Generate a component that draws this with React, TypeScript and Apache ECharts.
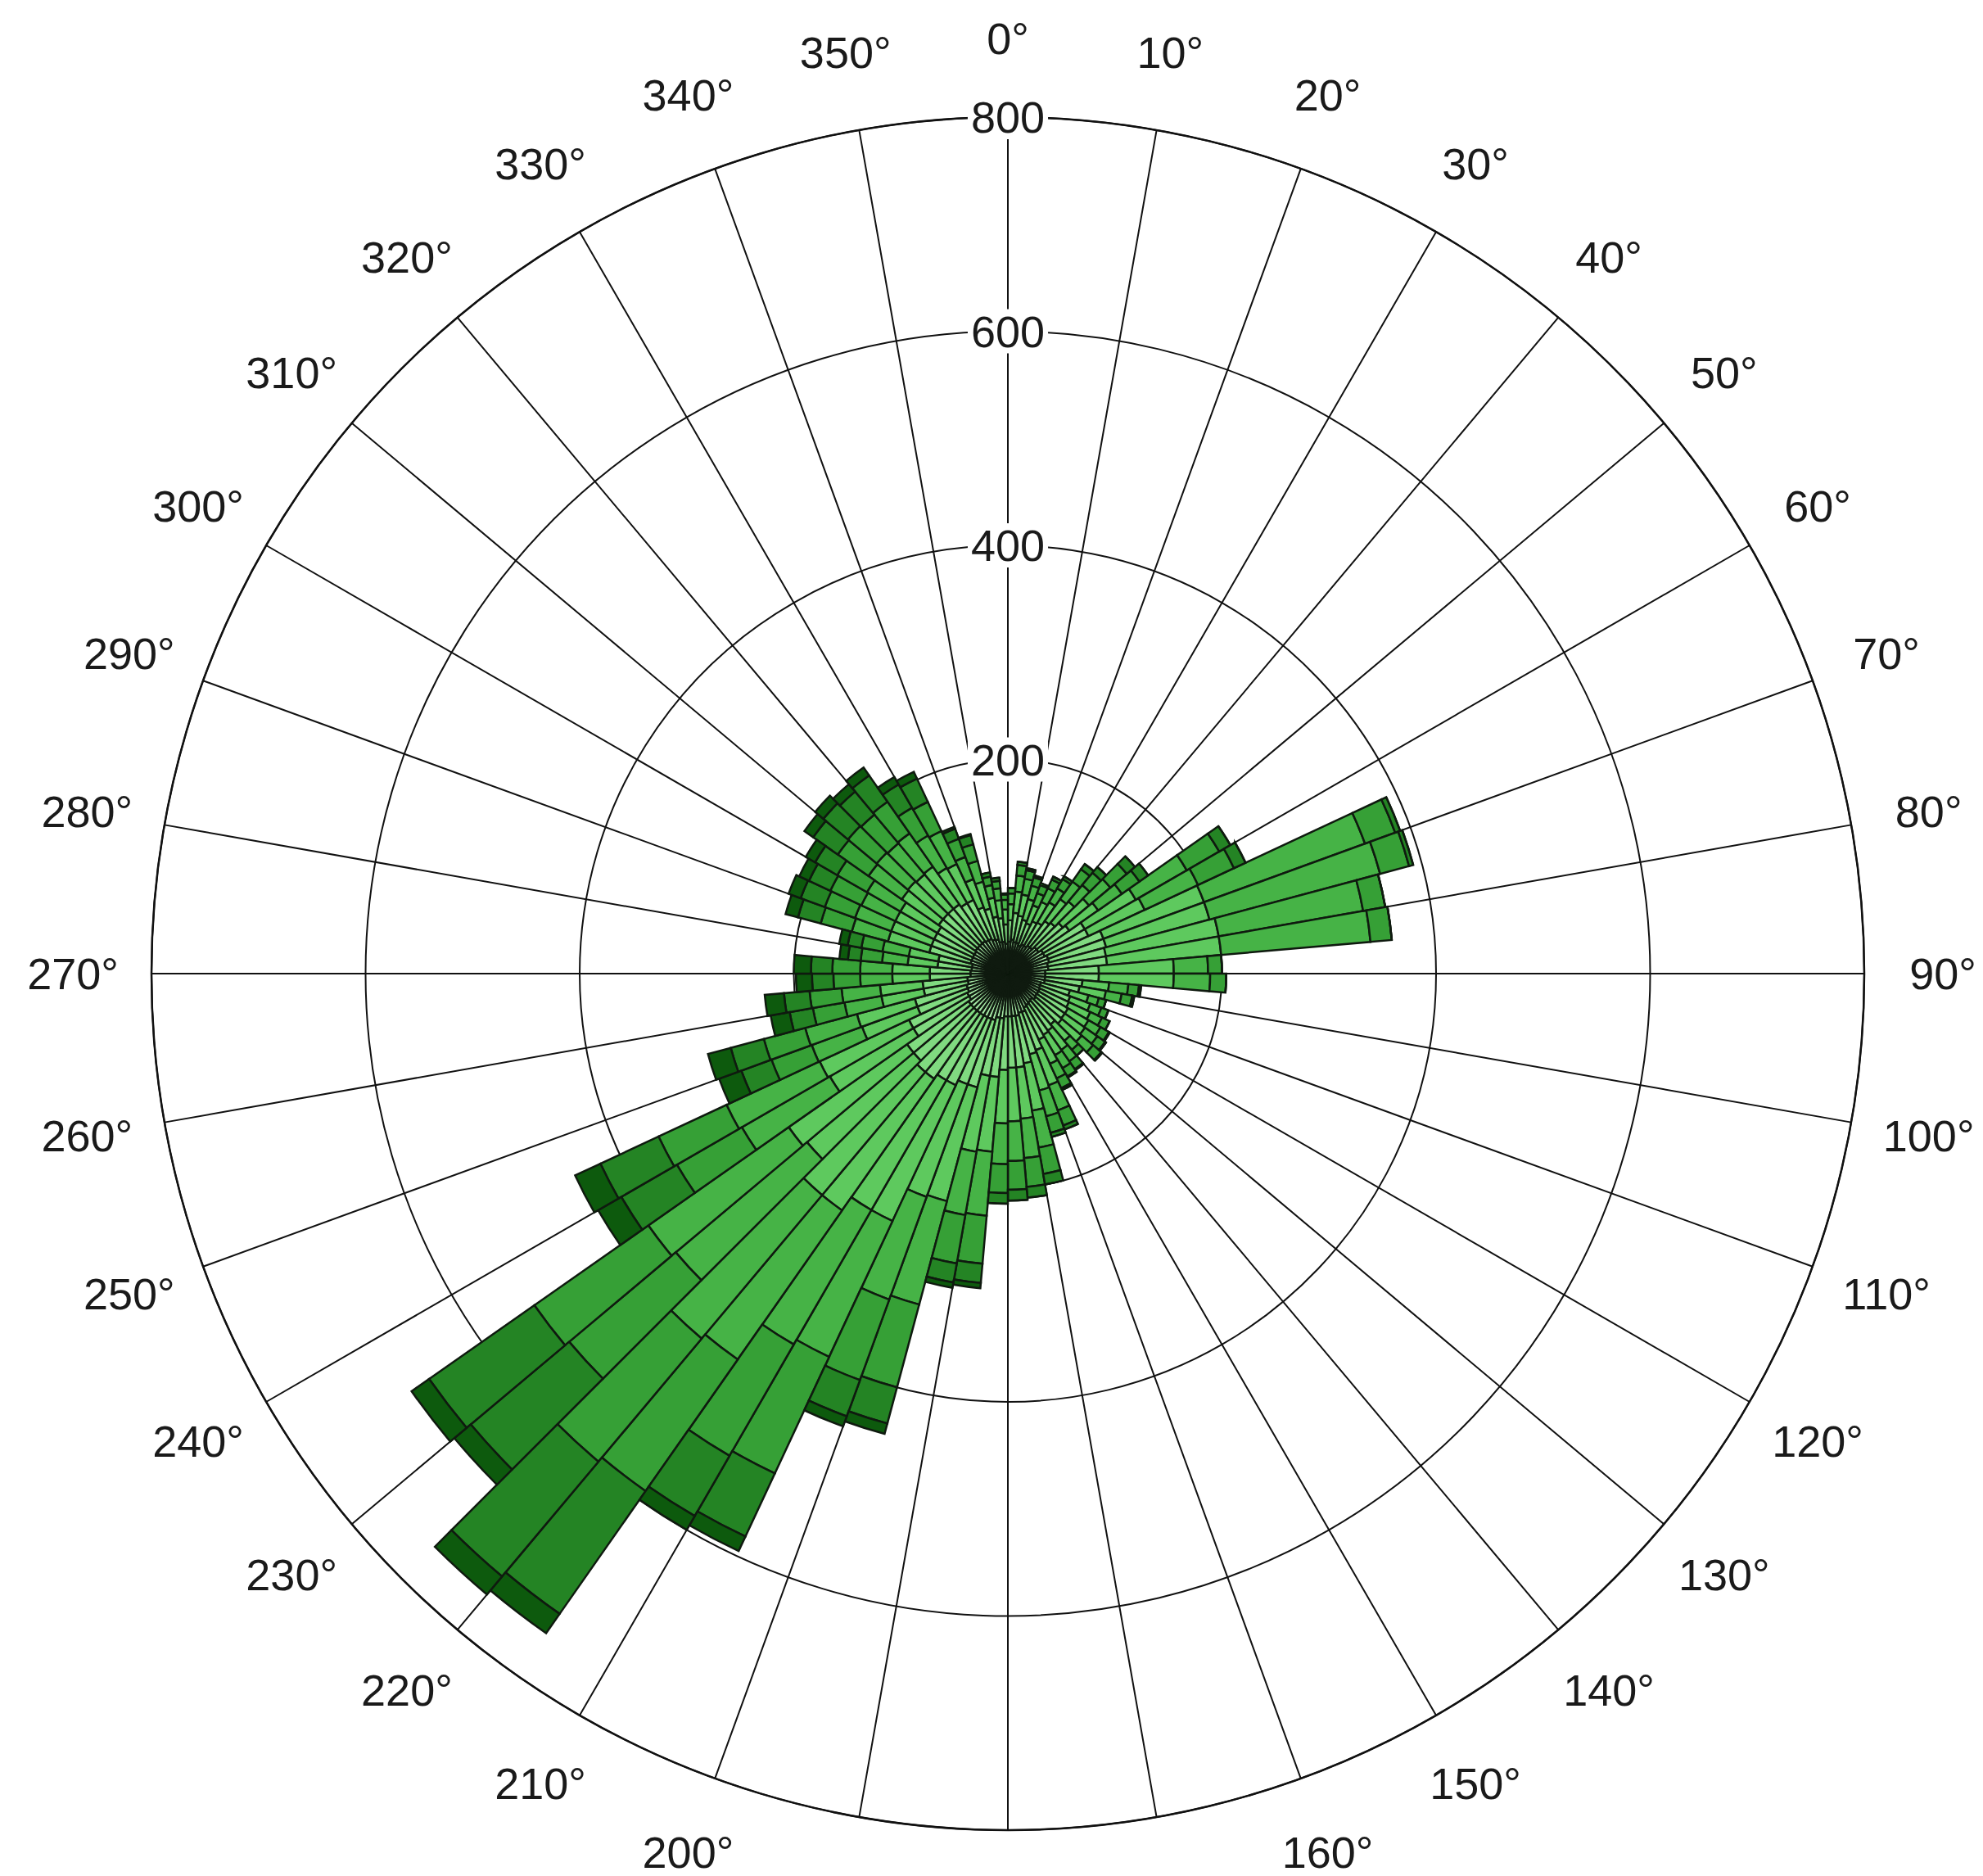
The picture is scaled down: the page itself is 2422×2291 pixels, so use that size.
import React, { useEffect, useRef } from "react";
import * as echarts from "echarts";

const W = 2422;
const H = 2291;
const CX = 1231;
const CY = 1189;
const R = 1046;
const LABEL_R = 1142;

// 72 direction bins of 5 degrees
const directions = Array.from({ length: 72 }, (_, i) => `${i * 5}-${i * 5 + 5}`);
const angleTicks = Array.from({ length: 36 }, (_, i) => i * 10);
const radiusTicks = [200, 400, 600, 800];
const RMAX = 800;

const classNames = ["c1", "c2", "c3", "c4", "c5", "c6", "c7"];
const classColors = ["#a6e8a6", "#80da80", "#5ec95e", "#46b346", "#36a036", "#248424", "#0d5a0d"];

const s1 = [30,32,30,30,28,30,30,32,32,35, 35,38,38,40,40,38,38,35,35,35, 35,32,32,33,33,33,34,32,33,34,
  35,38,38,40,40,40,40,42,42,45, 45,45,45,45,45,45,45,42,42,40, 40,38,38,35,35,34,34,36,36,36,
  36,37,37,37,37,36,36,34,33,30, 30,28];
const s2 = [20,25,25,22,22,24,25,28,30,32, 35,45,45,55,55,55,55,50,50,35, 33,28,30,30,32,32,32,30,32,32,
  33,38,40,45,48,48,50,55,55,65, 65,70,70,75,75,70,70,60,60,50, 50,42,42,38,38,32,32,40,40,40,
  40,42,42,42,42,40,40,32,30,24, 22,18];
const s3 = [15,20,20,20,18,20,22,25,26,32, 33,55,58,100,100,107,107,70,70,25, 25,18,20,22,22,23,24,20,22,22,
  25,35,35,45,48,50,50,70,72,110, 112,140,140,150,150,130,135,90,92,55, 56,40,40,35,35,28,28,40,40,40,
  40,42,43,42,43,38,37,28,26,18, 17,14];
const s4 = [10,15,15,13,12,14,15,20,20,26, 27,55,55,160,165,137,140,32,34,18, 15,10,11,12,13,14,14,11,13,14,
  15,25,25,35,37,37,38,60,60,100, 102,140,145,170,175,160,160,95,96,50, 50,35,36,30,30,24,25,35,36,35,
  36,38,38,38,38,35,34,22,20,12, 11,9];
const s5 = [5,10,8,8,8,9,10,14,15,20, 20,35,37,30,28,21,20,13,15,10, 10,7,7,8,9,9,10,7,9,9,
  10,15,16,25,27,27,27,45,46,80, 80,120,120,150,150,130,130,70,70,40, 40,30,30,25,26,20,20,30,30,32,
  32,35,35,35,36,30,30,18,16,8, 7,5];
const s6 = [0,3,2,2,2,3,3,6,7,10, 10,12,12,5,4,0,0,0,0,2, 2,0,0,0,1,1,1,0,1,1,
  2,4,4,10,10,10,10,18,18,35, 36,65,65,140,140,120,120,60,60,30, 32,22,24,20,20,12,13,22,24,22,
  24,28,30,28,30,25,24,10,9,4, 3,1];
const s7 = [0,0,0,0,0,0,0,0,0,0, 0,0,0,0,0,0,0,0,0,0, 0,0,0,0,0,0,0,0,0,0,
  0,0,0,0,0,0,0,5,5,10, 10,15,15,22,22,20,20,25,26,22, 22,18,18,15,16,8,8,12,12,10,
  10,10,10,9,9,8,7,2,1,0, 0,0];

const FONT = "Liberation Sans, Arial, sans-serif";

export default function App() {
  const ref = useRef<HTMLDivElement>(null);
  useEffect(() => {
    const chart = echarts.init(ref.current!, null, { renderer: "svg" });
    const seriesData = [s1, s2, s3, s4, s5, s6, s7];

    const angleLabels = angleTicks.map((a) => {
      const rad = (a * Math.PI) / 180;
      return {
        type: "text",
        x: CX + LABEL_R * Math.sin(rad),
        y: CY - LABEL_R * Math.cos(rad),
        z: 100,
        style: {
          text: `${a}°`,
          fontSize: 54,
          fontFamily: FONT,
          fill: "#1a1a1a",
          align: "center",
          verticalAlign: "middle",
        },
      };
    });
    const radiusLabels = radiusTicks.map((v) => ({
      type: "text",
      x: CX,
      y: CY - (R * v) / RMAX,
      z: 100,
      style: {
        text: String(v),
        fontSize: 54,
        fontFamily: FONT,
        fill: "#1a1a1a",
        align: "center",
        verticalAlign: "middle",
        backgroundColor: "#ffffff",
        padding: [0, 4],
      },
    }));

    chart.setOption({
      animation: false,
      backgroundColor: "#ffffff",
      polar: [
        { center: [CX, CY], radius: R },
        { center: [CX, CY], radius: R },
      ],
      angleAxis: [
        {
          polarIndex: 0,
          type: "value",
          min: 0,
          max: 360,
          interval: 10,
          startAngle: 90,
          clockwise: true,
          axisLine: { show: true, lineStyle: { color: "#111", width: 2.5 } },
          axisTick: { show: false },
          axisLabel: { show: false },
          splitLine: { show: true, lineStyle: { color: "#111", width: 2 } },
        },
        {
          polarIndex: 1,
          type: "category",
          data: directions,
          startAngle: 90,
          clockwise: true,
          boundaryGap: true,
          axisLine: { show: false },
          axisTick: { show: false },
          axisLabel: { show: false },
          splitLine: { show: false },
        },
      ],
      radiusAxis: [
        {
          polarIndex: 0,
          type: "value",
          min: 0,
          max: RMAX,
          interval: 200,
          axisLine: { show: false },
          axisTick: { show: false },
          axisLabel: { show: false },
          splitLine: { show: true, lineStyle: { color: "#111", width: 2 } },
        },
        {
          polarIndex: 1,
          type: "value",
          min: 0,
          max: RMAX,
          axisLine: { show: false },
          axisTick: { show: false },
          axisLabel: { show: false },
          splitLine: { show: false },
        },
      ],
      series: classNames.map((name, k) => ({
        type: "bar",
        name,
        coordinateSystem: "polar",
        polarIndex: 1,
        stack: "wind",
        data: seriesData[k],
        barCategoryGap: "0%",
        itemStyle: { color: classColors[k], borderColor: "#0f1a0f", borderWidth: 2.5 },
      })),
      graphic: [...angleLabels, ...radiusLabels],
    });
    return () => chart.dispose();
  }, []);
  return (
    <div
      ref={ref}
      style={{ position: "absolute", left: 0, top: 0, width: W, height: H, background: "#fff" }}
    />
  );
}
